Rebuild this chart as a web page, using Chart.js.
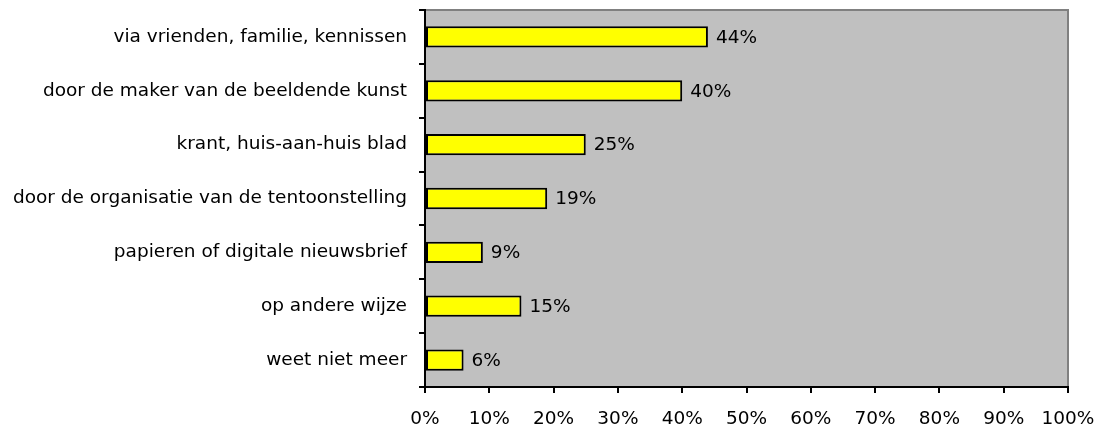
<!DOCTYPE html>
<html>
<head>
<meta charset="utf-8">
<script src="https://cdn.jsdelivr.net/npm/chart.js@4.4.1/dist/chart.umd.min.js"></script>
<style>
  html, body { margin: 0; padding: 0; background: #ffffff; }
  #wrap { width: 1100px; height: 434px; position: relative; }
</style>
</head>
<body>
<div id="wrap"><canvas id="c" width="1100" height="434"></canvas></div>
<script>
const categories = [
  "via vrienden, familie, kennissen",
  "door de maker van de beeldende kunst",
  "krant, huis-aan-huis blad",
  "door de organisatie van de tentoonstelling",
  "papieren of digitale nieuwsbrief",
  "op andere wijze",
  "weet niet meer"
];
const percentages = [44, 40, 25, 19, 9, 15, 6];
const xTickMin = 0;
const xTickMax = 100;
const xTickStep = 10;

const FONT = "'DejaVu Sans', Verdana, sans-serif";

const plotBg = {
  id: 'plotBg',
  beforeDraw(chart) {
    const { ctx, chartArea: a } = chart;
    ctx.save();
    ctx.fillStyle = '#c0c0c0';
    ctx.fillRect(a.left, a.top, a.right - a.left, a.bottom - a.top);
    ctx.strokeStyle = '#808080';
    ctx.lineWidth = 2;
    ctx.beginPath();
    ctx.moveTo(a.left, a.top);
    ctx.lineTo(a.right, a.top);
    ctx.lineTo(a.right, a.bottom);
    ctx.stroke();
    ctx.restore();
  }
};

const valueLabels = {
  id: 'valueLabels',
  afterDatasetsDraw(chart) {
    const { ctx } = chart;
    const meta = chart.getDatasetMeta(0);
    ctx.save();
    ctx.fillStyle = '#000000';
    ctx.font = '18.5px ' + FONT;
    ctx.textAlign = 'left';
    ctx.textBaseline = 'middle';
    meta.data.forEach((bar, i) => {
      ctx.fillText(percentages[i] + '%', bar.x + 8, bar.y + 1);
    });
    ctx.restore();
  }
};

new Chart(document.getElementById('c'), {
  type: 'bar',
  data: {
    labels: categories,
    datasets: [{
      data: percentages,
      backgroundColor: '#ffff00',
      borderColor: '#000000',
      borderWidth: 2,
      borderSkipped: false,
      barPercentage: 1,
      categoryPercentage: 0.395
    }]
  },
  options: {
    indexAxis: 'y',
    responsive: false,
    animation: false,
    devicePixelRatio: 1,
    layout: { padding: { left: 0, right: 32, top: 10, bottom: 0 } },
    plugins: { legend: { display: false }, tooltip: { enabled: false } },
    scales: {
      x: {
        min: xTickMin,
        max: xTickMax,
        afterFit(s) { s.height = 47; s.paddingLeft = 0; s.paddingRight = 0; },
        ticks: {
          stepSize: xTickStep,
          callback: v => v + '%',
          color: '#000000',
          font: { family: FONT, size: 18.5 },
          padding: 15,
          maxRotation: 0
        },
        grid: { drawOnChartArea: false, tickLength: 6, color: '#000000', lineWidth: 2 },
        border: { display: true, color: '#000000', width: 2 }
      },
      y: {
        afterFit(s) { s.width = 425; s.paddingTop = 0; s.paddingBottom = 0; },
        ticks: {
          color: '#000000',
          font: { family: FONT, size: 18.5 },
          padding: 12
        },
        grid: { offset: true, drawOnChartArea: false, tickLength: 6, color: '#000000', lineWidth: 2 },
        border: { display: true, color: '#000000', width: 2 }
      }
    }
  },
  plugins: [plotBg, valueLabels]
});
</script>
</body>
</html>
